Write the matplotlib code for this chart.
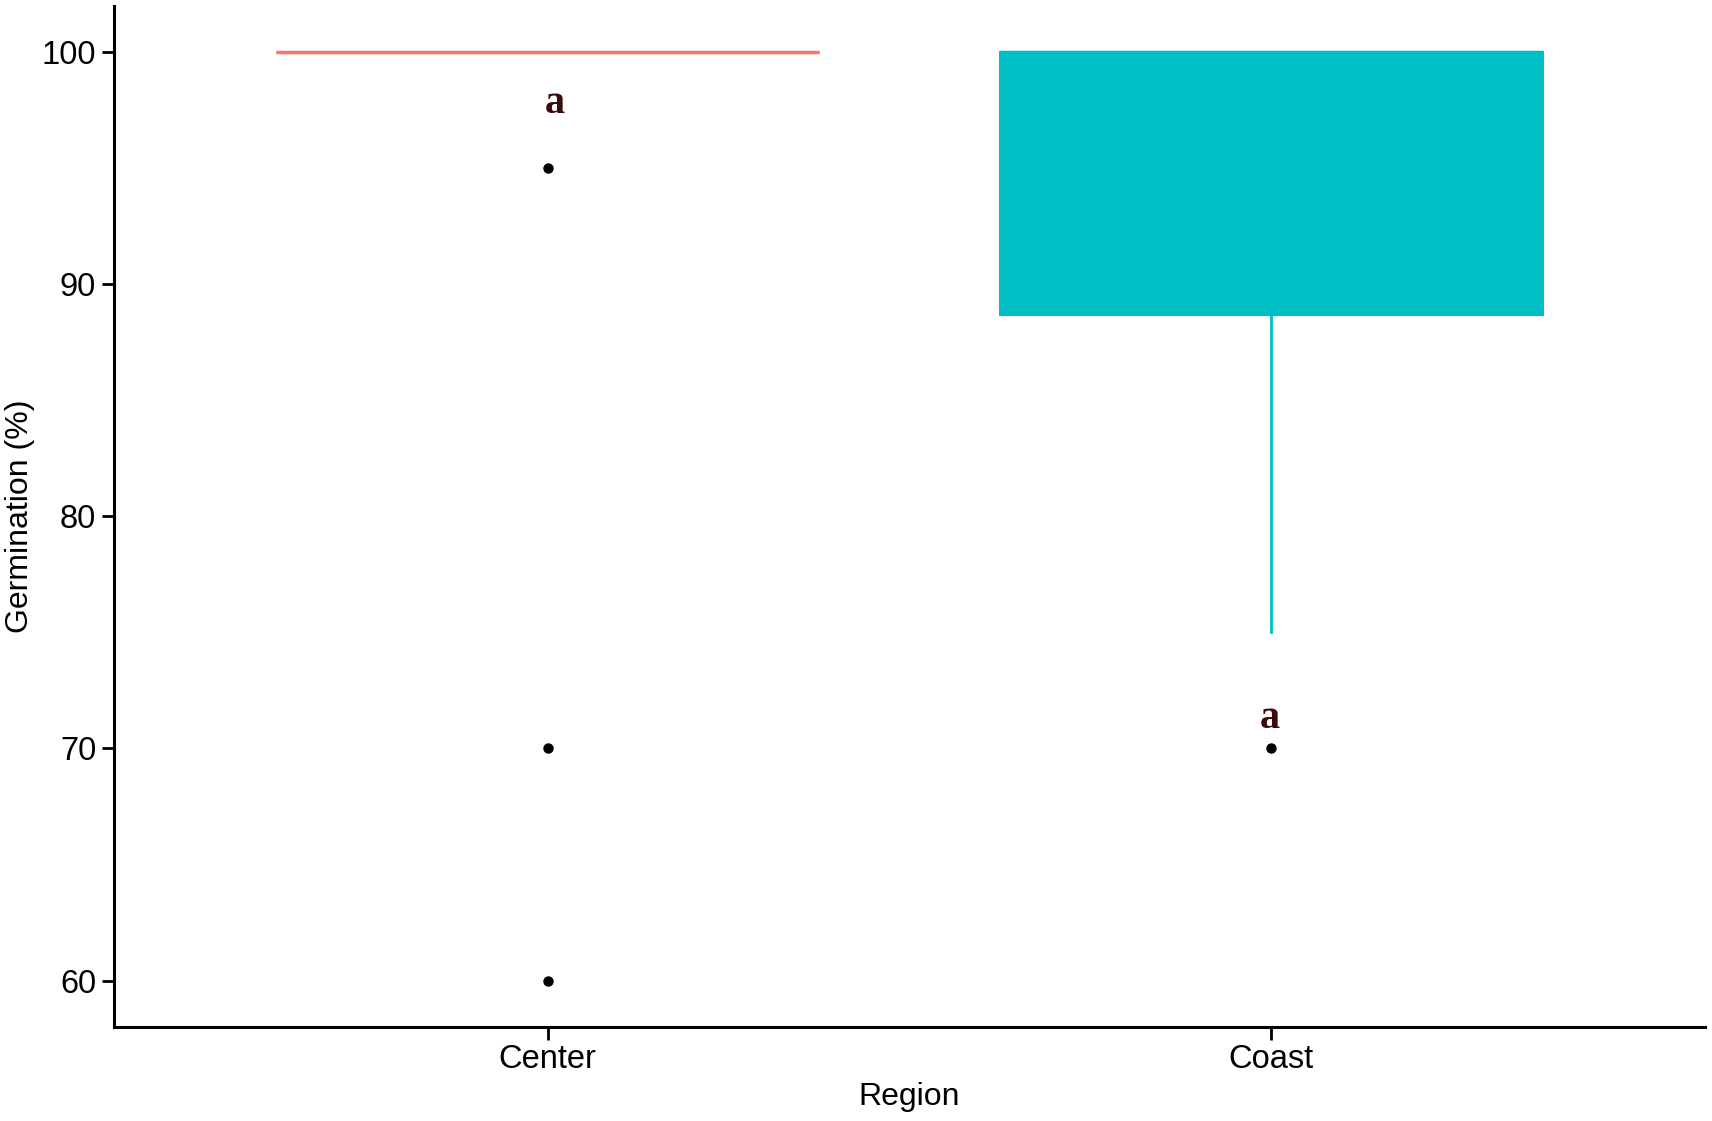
import matplotlib.pyplot as plt

# Data
regions = ["Center", "Coast"]
q1 = [100, 88.7]
med = [100, 100]
q3 = [100, 100]
whislo = [100, 75]
whishi = [100, 100]
outliers = [[95, 70, 60], [70]]
letters = ["a", "a"]
letter_y = [97.8, 71.3]

colors = ["#F8766D", "#00BFC4"]

stats = []
for i in range(len(regions)):
    stats.append(dict(label=regions[i], q1=q1[i], med=med[i], q3=q3[i],
                      whislo=whislo[i], whishi=whishi[i], fliers=outliers[i]))

fig = plt.figure(figsize=(17.12, 11.21), dpi=100)
ax = fig.add_axes([0.0663, 0.0839, 0.9297, 0.911])

for i, s in enumerate(stats):
    c = colors[i]
    ax.bxp([s], positions=[i + 1], widths=0.75, patch_artist=True, showcaps=False,
           boxprops=dict(facecolor=c, edgecolor=c, linewidth=2.2),
           medianprops=dict(color=c, linewidth=2.5),
           whiskerprops=dict(color=c, linewidth=2),
           flierprops=dict(marker="o", markerfacecolor="black", markeredgecolor="black",
                           markersize=6.5))

x_shift = [0.01, -0.002]
for i in range(len(regions)):
    ax.text(i + 1 + x_shift[i], letter_y[i], letters[i], ha="center", va="center",
            fontsize=29, fontweight="bold", family="Liberation Serif", color="#3a0a0c")

ax.set_xlim(0.4, 2.6)
ax.set_ylim(58, 102)
ax.set_yticks([60, 70, 80, 90, 100])
ax.set_xticks([1, 2])
ax.set_xticklabels(regions)

for sp in ["top", "right"]:
    ax.spines[sp].set_visible(False)
for sp in ["left", "bottom"]:
    ax.spines[sp].set_linewidth(2.2)

ax.tick_params(axis="both", length=9, width=2, labelsize=23.5, colors="black")
for lab in ax.get_xticklabels() + ax.get_yticklabels():
    lab.set_family("Liberation Sans")

ax.set_xlabel("Region", fontsize=23, family="Liberation Sans", labelpad=5)
ax.set_ylabel("Germination (%)", fontsize=23, family="Liberation Sans", labelpad=5)

fig.savefig("out.png", dpi=100)
